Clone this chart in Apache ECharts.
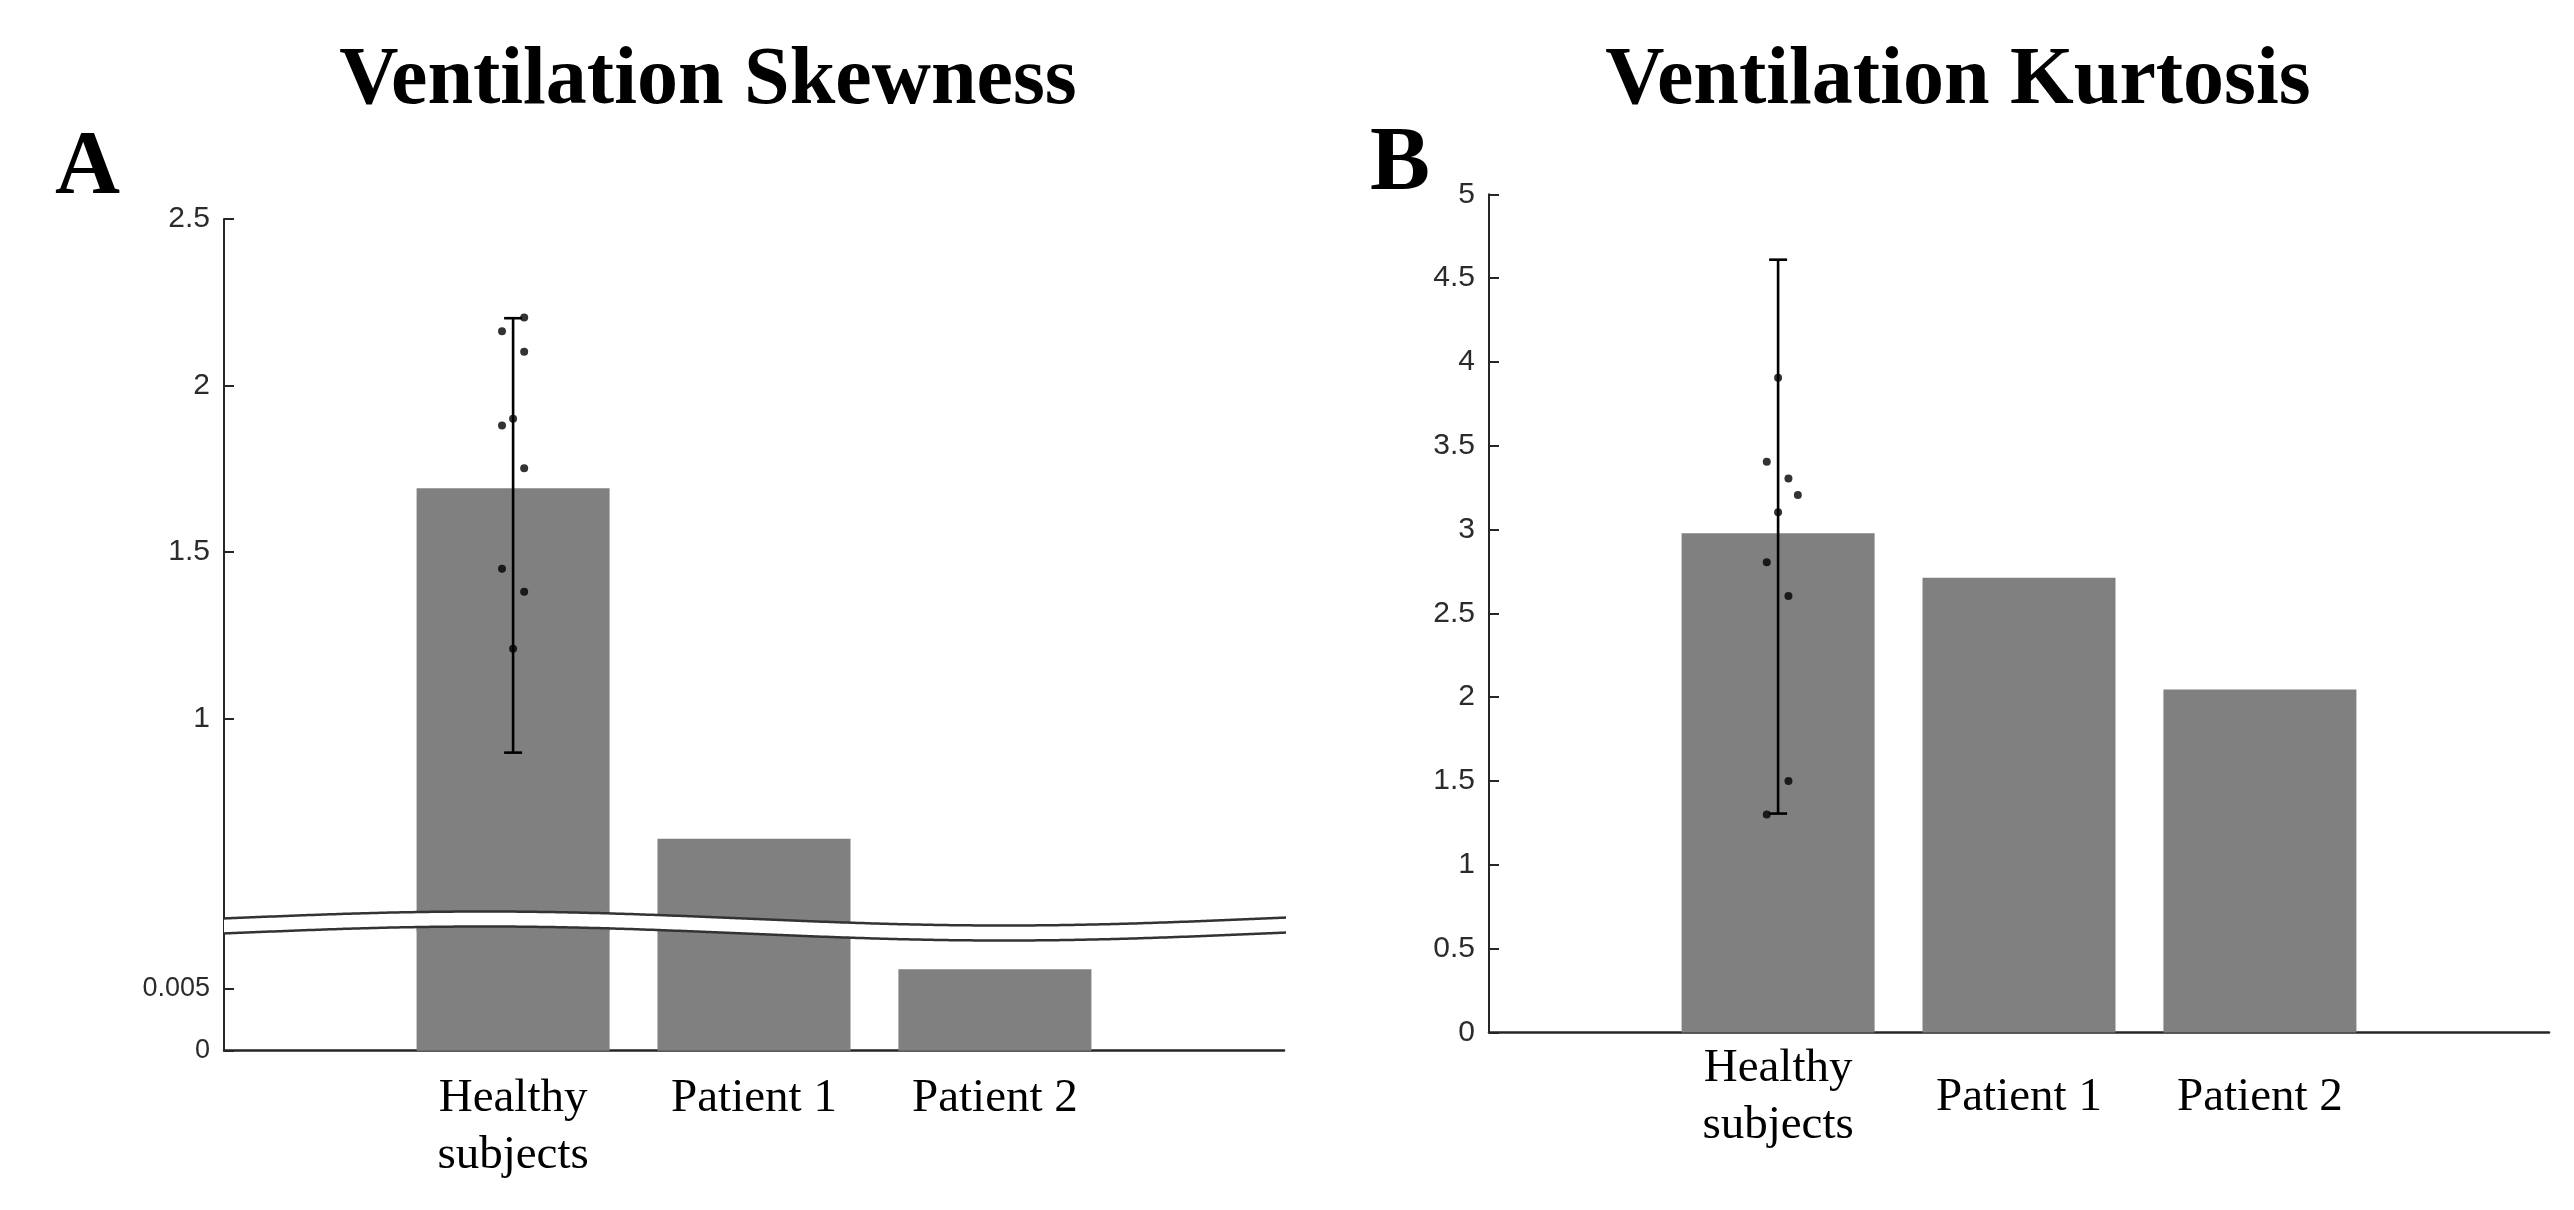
<!DOCTYPE html>
<html>
<head>
<meta charset="utf-8">
<script src="https://cdn.jsdelivr.net/npm/echarts@6/dist/echarts.min.js"></script>
<style>
html,body{margin:0;padding:0;background:#fff;}
#chart{width:2574px;height:1210px;}
</style>
</head>
<body>
<div id="chart"></div>
<script>
// ---------------- data ----------------
const categories = ['Healthy\nsubjects', 'Patient 1', 'Patient 2'];
const catPos = [1, 2, 3];

// Panel A: Ventilation Skewness
const skewMeans = [1.691, 0.638, 0.0066];
const skewErrLow = [0.897];
const skewErrHigh = [2.202];
const skewDotX = [1.046, 0.954, 1.046, 1.0, 0.954, 1.046, 0.954, 1.046, 1.0];
const skewDotY = [2.204, 2.163, 2.101, 1.90, 1.88, 1.751, 1.449, 1.380, 1.209];
const skewUpperTicks = [1, 1.5, 2, 2.5];
const skewLowerTicks = [0, 0.005];

// Panel B: Ventilation Kurtosis
const kurtMeans = [2.978, 2.712, 2.046];
const kurtErrLow = [1.306];
const kurtErrHigh = [4.61];
const kurtDotX = [1.0, 0.953, 1.043, 1.082, 1.0, 0.953, 1.043, 1.043, 0.953];
const kurtDotY = [3.906, 3.405, 3.305, 3.206, 3.104, 2.805, 2.604, 1.50, 1.30];

// ---------------- layout ----------------
const AX_COLOR = '#262626';
const BAR_COLOR = '#808080';
const A_LEFT = 224, B_LEFT = 1489, PLOT_W = 1060;
const A_UP_TOP = 219, A_UP_H = 712.4;
const A_LO_TOP = 927.3, A_LO_H = 123.4;
const B_TOP = 194.3, B_H = 838.2;
const BAR_W = 193;

const chart = echarts.init(document.getElementById('chart'), null, {renderer: 'canvas'});

function errorRender(params, api) {
  const x = api.value(0), lo = api.value(1), hi = api.value(2);
  const pLo = api.coord([x, lo]);
  const pHi = api.coord([x, hi]);
  const cap = 9;
  const style = {stroke: '#000', lineWidth: 2.6};
  return {
    type: 'group',
    children: [
      {type: 'line', shape: {x1: pLo[0], y1: pLo[1], x2: pHi[0], y2: pHi[1]}, style},
      {type: 'line', shape: {x1: pLo[0] - cap, y1: pLo[1], x2: pLo[0] + cap, y2: pLo[1]}, style},
      {type: 'line', shape: {x1: pHi[0] - cap, y1: pHi[1], x2: pHi[0] + cap, y2: pHi[1]}, style}
    ]
  };
}

const tickLabel = {
  fontFamily: '"Liberation Sans", Arial, sans-serif',
  fontSize: 30,
  color: '#2b2b2b',
  margin: 14
};

function catLabel(extra) {
  return Object.assign({
    customValues: catPos,
    formatter: v => categories[Math.round(v) - 1] || '',
    fontFamily: '"Liberation Serif", "Times New Roman", serif',
    fontSize: 47,
    lineHeight: 57,
    color: '#000'
  }, extra);
}

function yAxisBase(grid, min, max, extra) {
  return Object.assign({
    type: 'value', gridIndex: grid, min, max,
    axisLine: {show: true, onZero: false, lineStyle: {color: AX_COLOR, width: 2}},
    axisTick: {show: true, inside: true, length: 10, lineStyle: {color: AX_COLOR, width: 2}},
    splitLine: {show: false},
    axisLabel: Object.assign({}, tickLabel)
  }, extra);
}

// wave break band for panel A (decoration)
function wave(offset) {
  const pts = [];
  for (let x = A_LEFT; x <= A_LEFT + PLOT_W + 2; x += 3) {
    pts.push([x, 918.5 + offset - 7 * Math.sin(2 * Math.PI * (x - A_LEFT) / 1040)]);
  }
  return pts;
}
const waveTop = wave(0);
const waveBot = wave(15);
const bandPts = waveTop.concat(waveBot.slice().reverse());

const option = {
  backgroundColor: '#fff',
  animation: false,
  grid: [
    {left: A_LEFT, top: A_UP_TOP, width: PLOT_W, height: A_UP_H, outerBoundsMode: 'none'},
    {left: A_LEFT, top: A_LO_TOP, width: PLOT_W, height: A_LO_H, outerBoundsMode: 'none'},
    {left: B_LEFT, top: B_TOP, width: PLOT_W, height: B_H, outerBoundsMode: 'none'}
  ],
  xAxis: [
    {type: 'value', gridIndex: 0, min: -0.2, max: 4.2, show: false},
    {type: 'value', gridIndex: 1, min: -0.2, max: 4.2, position: 'bottom',
     axisLine: {show: true, onZero: false, lineStyle: {color: AX_COLOR, width: 2.5}},
     axisTick: {show: false}, splitLine: {show: false},
     axisLabel: catLabel({margin: 19, verticalAlign: 'top'})},
    {type: 'value', gridIndex: 2, min: -0.2, max: 4.2, position: 'bottom',
     axisLine: {show: true, onZero: false, lineStyle: {color: AX_COLOR, width: 2.5}},
     axisTick: {show: false}, splitLine: {show: false},
     axisLabel: catLabel({margin: 65, verticalAlign: 'middle'})}
  ],
  yAxis: [
    yAxisBase(0, 0.36, 2.5, {
      axisTick: {show: true, inside: true, length: 10, customValues: skewUpperTicks, lineStyle: {color: AX_COLOR, width: 2}},
      axisLabel: Object.assign({customValues: skewUpperTicks}, tickLabel)
    }),
    yAxisBase(1, 0, 0.01, {
      axisTick: {show: true, inside: true, length: 10, customValues: skewLowerTicks, lineStyle: {color: AX_COLOR, width: 2}},
      axisLabel: Object.assign({customValues: skewLowerTicks}, tickLabel, {fontSize: 27})
    }),
    yAxisBase(2, 0, 5, {interval: 0.5})
  ],
  series: [
    {type: 'bar', xAxisIndex: 0, yAxisIndex: 0, barWidth: BAR_W, clip: true,
     itemStyle: {color: BAR_COLOR}, data: catPos.map((x, i) => [x, skewMeans[i]])},
    {type: 'bar', xAxisIndex: 1, yAxisIndex: 1, barWidth: BAR_W, clip: true,
     itemStyle: {color: BAR_COLOR}, data: catPos.map((x, i) => [x, skewMeans[i]])},
    {type: 'custom', xAxisIndex: 0, yAxisIndex: 0, renderItem: errorRender, z: 5,
     encode: {x: 0, y: [1, 2]},
     data: skewErrLow.map((lo, i) => [catPos[i], lo, skewErrHigh[i]])},
    {type: 'scatter', xAxisIndex: 0, yAxisIndex: 0, symbolSize: 8, z: 6,
     itemStyle: {color: '#000'}, data: skewDotX.map((x, i) => [x, skewDotY[i]])},

    {type: 'bar', xAxisIndex: 2, yAxisIndex: 2, barWidth: BAR_W,
     itemStyle: {color: BAR_COLOR}, data: catPos.map((x, i) => [x, kurtMeans[i]])},
    {type: 'custom', xAxisIndex: 2, yAxisIndex: 2, renderItem: errorRender, z: 5,
     encode: {x: 0, y: [1, 2]},
     data: kurtErrLow.map((lo, i) => [catPos[i], lo, kurtErrHigh[i]])},
    {type: 'scatter', xAxisIndex: 2, yAxisIndex: 2, symbolSize: 8, z: 6,
     itemStyle: {color: '#000'}, data: kurtDotX.map((x, i) => [x, kurtDotY[i]])}
  ],
  graphic: [
    {type: 'polygon', z: 100, shape: {points: bandPts}, style: {fill: '#fff', stroke: null}},
    {type: 'polyline', z: 101, shape: {points: waveTop}, style: {stroke: '#333', lineWidth: 2.5, fill: null}},
    {type: 'polyline', z: 101, shape: {points: waveBot}, style: {stroke: '#333', lineWidth: 2.5, fill: null}},
    {type: 'text', z: 110, x: 708, y: 82, style: {text: 'Ventilation Skewness', align: 'center', verticalAlign: 'middle',
      font: 'bold 82px "Liberation Serif", "Times New Roman", serif', fill: '#000'}},
    {type: 'text', z: 110, x: 1958, y: 82, style: {text: 'Ventilation Kurtosis', align: 'center', verticalAlign: 'middle',
      font: 'bold 82px "Liberation Serif", "Times New Roman", serif', fill: '#000'}},
    {type: 'text', z: 110, x: 55, y: 170, style: {text: 'A', align: 'left', verticalAlign: 'middle',
      font: 'bold 90px "Liberation Serif", "Times New Roman", serif', fill: '#000'}},
    {type: 'text', z: 110, x: 1370, y: 166, style: {text: 'B', align: 'left', verticalAlign: 'middle',
      font: 'bold 90px "Liberation Serif", "Times New Roman", serif', fill: '#000'}}
  ]
};
chart.setOption(option);
</script>
</body>
</html>
